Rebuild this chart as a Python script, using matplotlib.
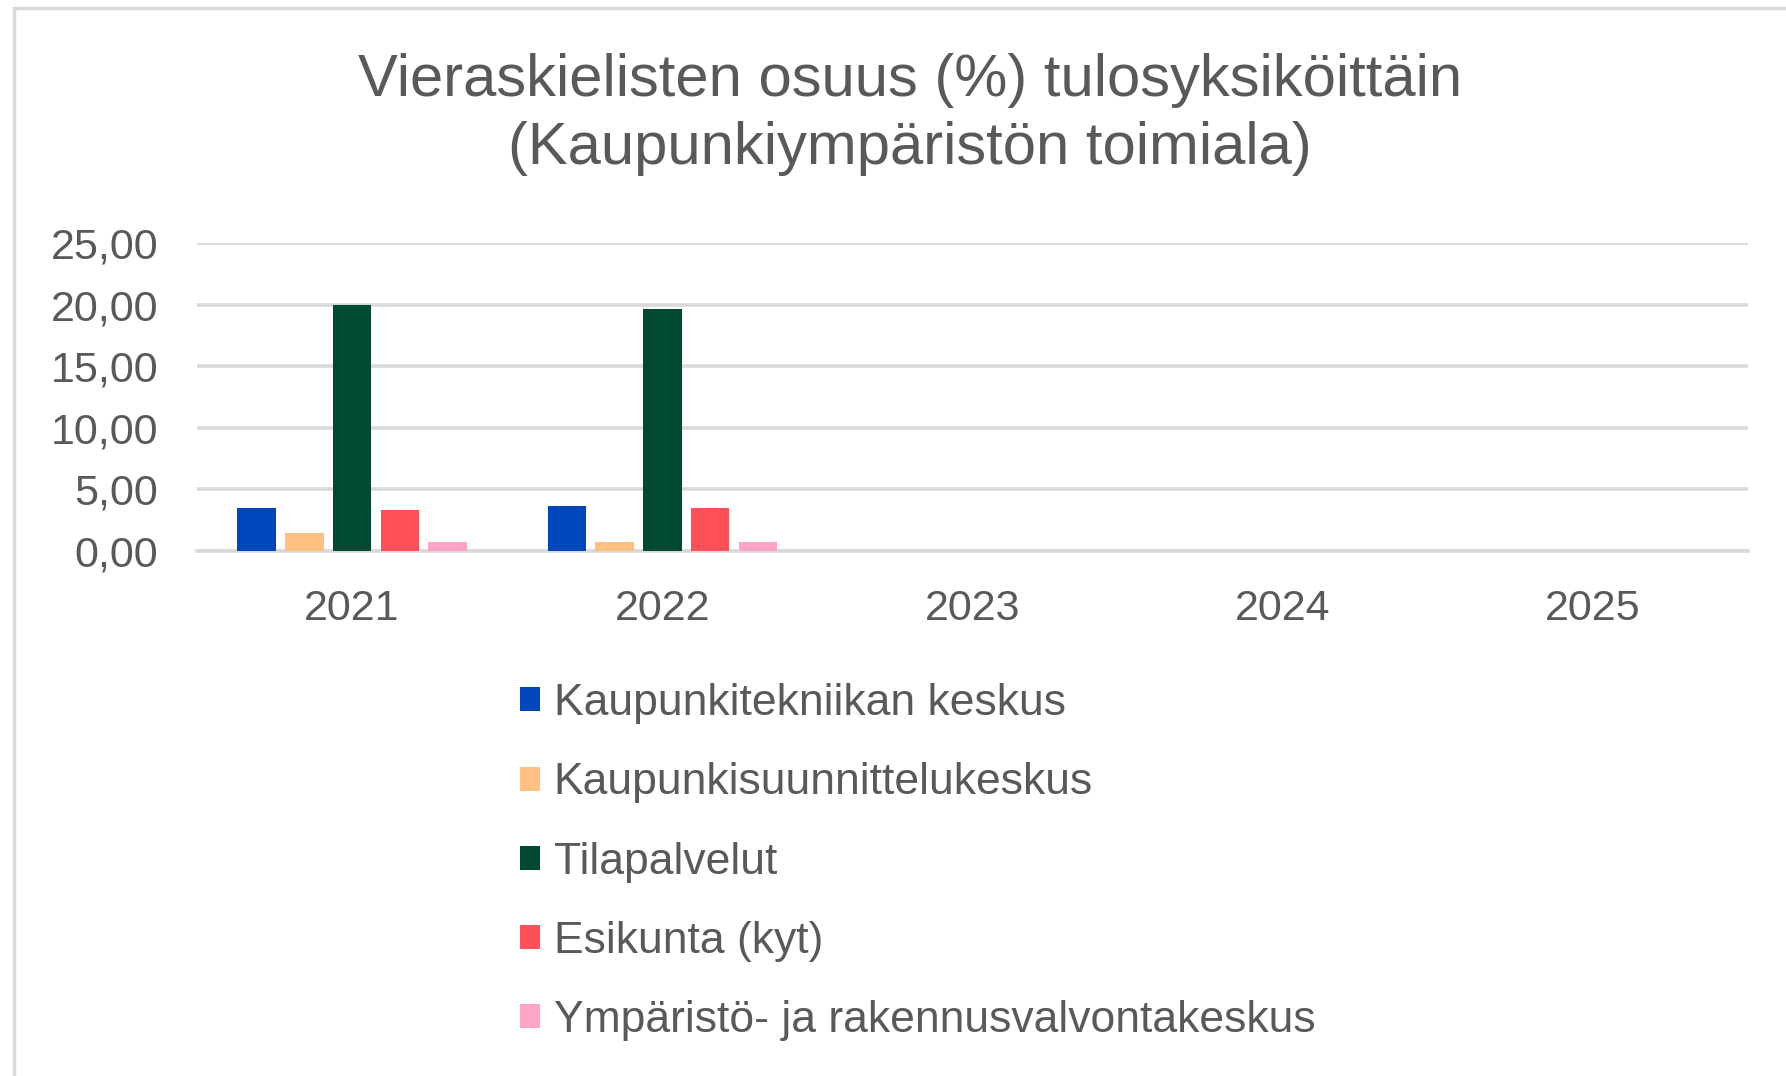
import matplotlib.pyplot as plt
import numpy as np
from matplotlib.patches import Rectangle
from matplotlib.ticker import FuncFormatter

plt.rcParams['font.family'] = ['Liberation Sans', 'DejaVu Sans']

# data
vuodet = ['2021', '2022', '2023', '2024', '2025']
sarjat = ['Kaupunkitekniikan keskus', 'Kaupunkisuunnittelukeskus', 'Tilapalvelut',
          'Esikunta (kyt)', 'Ympäristö- ja rakennusvalvontakeskus']
kaupunkitekniikka = [3.45, 3.67, np.nan, np.nan, np.nan]
kaupunkisuunnittelu = [1.5, 0.73, np.nan, np.nan, np.nan]
tilapalvelut = [20.0, 19.65, np.nan, np.nan, np.nan]
esikunta = [3.3, 3.48, np.nan, np.nan, np.nan]
ymparisto = [0.73, 0.73, np.nan, np.nan, np.nan]
arvot = [kaupunkitekniikka, kaupunkisuunnittelu, tilapalvelut, esikunta, ymparisto]
varit = ['#0047bb', '#ffc081', '#004b2f', '#ff505a', '#ffa5c8']

W, H = 1786, 1076
fig = plt.figure(figsize=(W / 100, H / 100), dpi=100)
teksti = '#595959'
harmaa = '#d9d9d9'

# chart border
fig.patches.append(Rectangle((14 / W, -0.05), 1.2, 1 - 8 / H + 0.05, transform=fig.transFigure,
                             fill=False, edgecolor=harmaa, linewidth=2.5))

ax = fig.add_axes([197 / W, 1 - 551 / H, (1748 - 197) / W, (551 - 243) / H])

x = np.arange(len(vuodet))
askel = 0.154
leveys = 0.124
for i, (nimi, v, c) in enumerate(zip(sarjat, arvot, varit)):
    ax.bar(x + (i - 2) * askel, v, leveys, color=c, label=nimi, zorder=3)

ax.set_xlim(-0.5, len(vuodet) - 0.5)
ax.set_ylim(0, 25)
ax.set_yticks(np.arange(0, 26, 5))
ax.yaxis.set_major_formatter(FuncFormatter(lambda v, p: f'{v:.2f}'.replace('.', ',')))
ax.set_xticks(x)
ax.set_xticklabels(vuodet)
ax.grid(axis='y', color=harmaa, linewidth=2.6, zorder=0)
ax.set_axisbelow(True)
for s in ['top', 'right', 'left']:
    ax.spines[s].set_visible(False)
ax.spines['bottom'].set_color(harmaa)
ax.spines['bottom'].set_linewidth(2.6)
ax.tick_params(axis='both', length=0, labelsize=31, colors=teksti)
ax.tick_params(axis='x', pad=27)
ax.tick_params(axis='y', pad=28)

# otsikko hieman oikealle kuten alkuperäisessä
xo = 0.5 + 17 / W
fig.text(xo, 1 - 80 / H, 'Vieraskielisten osuus (%) tulosyksiköittäin',
         ha='center', va='center', fontsize=43, color=teksti)
fig.text(xo, 1 - 148 / H, '(Kaupunkiympäristön toimiala)',
         ha='center', va='center', fontsize=43, color=teksti)

leg = fig.legend(loc='upper left', bbox_to_anchor=(498 / W, 1 - 661 / H), frameon=False,
                 fontsize=32, labelcolor=teksti, handlelength=0.45, handleheight=0.45,
                 handletextpad=0.3, labelspacing=0.86, borderpad=0)

fig.savefig('out.png', dpi=100)
